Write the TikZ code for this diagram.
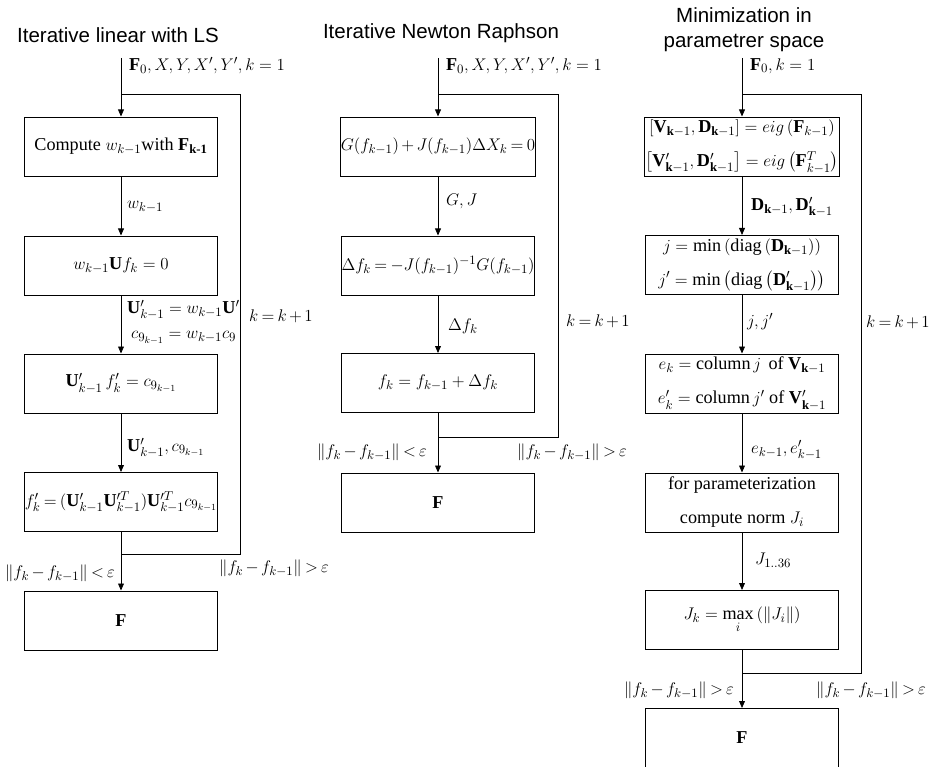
\documentclass[tikz,border=0pt]{standalone}
\usepackage{amsmath}
\usepackage{fontspec}
\setmainfont{Liberation Serif}
\newfontfamily\ttlfont{Liberation Sans}
\usetikzlibrary{arrows.meta}
\newcommand\narrowmath{\medmuskip=2.5mu\relax\thickmuskip=3.5mu\relax}

\begin{document}
\begin{tikzpicture}[x=.03cm,y=-.03cm,font=\fontsize{15.5}{19}\selectfont,
    box/.style={draw,line width=.8pt,minimum width=5.79cm,minimum height=1.77cm,inner sep=1pt,align=center},
    tight/.style={inner xsep=0pt,execute at begin node=\narrowmath},
    lbl/.style={execute at begin node=\narrowmath},
    ln/.style={line width=.7pt},
    arr/.style={ln,-{Triangle[length=6pt,width=5pt]}},
    ttl/.style={font=\ttlfont\fontsize{17.5}{21}\selectfont,align=center}]
  \useasboundingbox (0,0) rectangle (930,767);

  % titles
  \node[ttl] (tL) at (118,35) {Iterative linear with LS};
  \node[ttl] (tM) at (441,33) {Iterative Newton Raphson};
  \node[ttl] (tR) at (744,30) {Minimization in\\parametrer space};

  % iterative linear with LS
  \node[box] (l1) at (121,146.5) {Compute $w_{k-1}$with $\mathbf{F}_{\textbf{k-1}}$};
  \node[box] (l2) at (121,265.5) {$w_{k-1}\mathbf{U}f_k=0$};
  \node[box] (l3) at (121,383.5) {$\mathbf{U}'_{k-1}\,f'_k=c_{9_{k-1}}$};
  \node[box,tight] (l4) at (121,502) {$f'_k=(\mathbf{U}'_{k-1}\mathbf{U}'^{T}_{k-1})\mathbf{U}'^{T}_{k-1}c_{9_{k-1}}$};
  \node[box] (lF) at (121,620.5) {$\mathbf{F}$};
  \coordinate (inL) at (121,58);
  \coordinate (jnL) at (121,94);
  \coordinate (lbL) at (121,554);
  \coordinate (lrL) at (240,94);
  \draw[arr] (inL) -- (l1);
  \draw[arr] (l1) -- (l2);
  \draw[arr] (l2) -- (l3);
  \draw[arr] (l3) -- (l4);
  \draw[arr] (l4) -- (lF);
  \draw[ln] (lbL) -| (lrL) -- (jnL);
  \node[anchor=west] (aL0) at (125,66) {$\mathbf{F}_0,X,Y,X',Y',k=1$};
  \node[anchor=west] (aL1) at (123,207) {$w_{k-1}$};
  \node[anchor=west] (aL2) at (123,310) {$\mathbf{U}'_{k-1}=w_{k-1}\mathbf{U}'$};
  \node[anchor=west] (aL3) at (127,338) {$c_{9_{k-1}}=w_{k-1}c_9$};
  \node[anchor=west] (aL4) at (123,448) {$\mathbf{U}'_{k-1},c_{9_{k-1}}$};
  \node[anchor=west,lbl] (aL5) at (245,316) {$k=k+1$};
  \node[anchor=east,lbl] (aL6) at (119,573) {$\left\|f_k-f_{k-1}\right\|<\varepsilon$};
  \node[anchor=west,lbl] (aL7) at (215,568) {$\left\|f_k-f_{k-1}\right\|>\varepsilon$};

  % iterative Newton Raphson
  \node[box,tight] (m1) at (438,146.5) {$G(f_{k-1})+J(f_{k-1})\Delta X_k=0$};
  \node[box,tight] (m2) at (438,265.5) {$\Delta f_k=-J(f_{k-1})^{-1}G(f_{k-1})$};
  \node[box] (m3) at (438,383) {$f_k=f_{k-1}+\Delta f_k$};
  \node[box] (mF) at (438,502.5) {$\mathbf{F}$};
  \coordinate (inM) at (438,58);
  \coordinate (jnM) at (438,94);
  \coordinate (lbM) at (438,437);
  \coordinate (lrM) at (558,94);
  \draw[arr] (inM) -- (m1);
  \draw[arr] (m1) -- (m2);
  \draw[arr] (m2) -- (m3);
  \draw[arr] (m3) -- (mF);
  \draw[ln] (lbM) -| (lrM) -- (jnM);
  \node[anchor=west] (aM0) at (442,66) {$\mathbf{F}_0,X,Y,X',Y',k=1$};
  \node[anchor=west] (aM1) at (442,201) {$G,J$};
  \node[anchor=west] (aM2) at (444,326) {$\Delta f_k$};
  \node[anchor=west,lbl] (aM3) at (562,321) {$k=k+1$};
  \node[anchor=east,lbl] (aM4) at (431,452) {$\left\|f_k-f_{k-1}\right\|<\varepsilon$};
  \node[anchor=west,lbl] (aM5) at (513,452) {$\left\|f_k-f_{k-1}\right\|>\varepsilon$};

  % minimization in parameter space
  \node[box] (r1) at (742,146.5) {$\left[\mathbf{V}_{\mathbf{k}-1},\mathbf{D}_{\mathbf{k}-1}\right]=eig\left(\mathbf{F}_{k-1}\right)$\\[10pt]
    $\left[\mathbf{V}'_{\mathbf{k}-1},\mathbf{D}'_{\mathbf{k}-1}\right]=eig\left(\mathbf{F}^{T}_{k-1}\right)$};
  \node[box] (r2) at (742,265) {$j=\min\left(\operatorname{diag}\left(\mathbf{D}_{\mathbf{k}-1}\right)\right)$\\[10pt]
    $j'=\min\left(\operatorname{diag}\left(\mathbf{D}'_{\mathbf{k}-1}\right)\right)$};
  \node[box] (r3) at (742,383.5) {$e_k=\text{column}\,j\,$ of $\mathbf{V}_{\mathbf{k}-1}$\\[10pt]
    $e'_k=\text{column}\,j'$ of $\mathbf{V}'_{\mathbf{k}-1}$};
  \node[box] (r4) at (742,502.5) {for parameterization\\[10pt] compute norm $J_i$};
  \node[box] (r5) at (742,620) {$J_k=\max\limits_i\left(\left\|J_i\right\|\right)$};
  \node[box] (rF) at (742,738) {$\mathbf{F}$};
  \coordinate (inR) at (742,58);
  \coordinate (jnR) at (742,94);
  \coordinate (lbR) at (742,673);
  \coordinate (lrR) at (861,94);
  \draw[arr] (inR) -- (r1);
  \draw[arr] (r1) -- (r2);
  \draw[arr] (r2) -- (r3);
  \draw[arr] (r3) -- (r4);
  \draw[arr] (r4) -- (r5);
  \draw[arr] (r5) -- (rF);
  \draw[ln] (lbR) -| (lrR) -- (jnR);
  \node[anchor=west] (aR0) at (746,66) {$\mathbf{F}_0,k=1$};
  \node[anchor=west] (aR1) at (747,207) {$\mathbf{D}_{\mathbf{k}-1},\mathbf{D}'_{\mathbf{k}-1}$};
  \node[anchor=west] (aR2) at (743,322) {$j,j'$};
  \node[anchor=west] (aR3) at (747,450) {$e_{k-1},e'_{k-1}$};
  \node[anchor=west] (aR4) at (751,560) {$J_{1..36}$};
  \node[anchor=west,lbl] (aR5) at (862,322) {$k=k+1$};
  \node[anchor=east,lbl] (aR6) at (738,690) {$\left\|f_k-f_{k-1}\right\|>\varepsilon$};
  \node[anchor=west,lbl] (aR7) at (812,690) {$\left\|f_k-f_{k-1}\right\|>\varepsilon$};
\end{tikzpicture}
\end{document}
